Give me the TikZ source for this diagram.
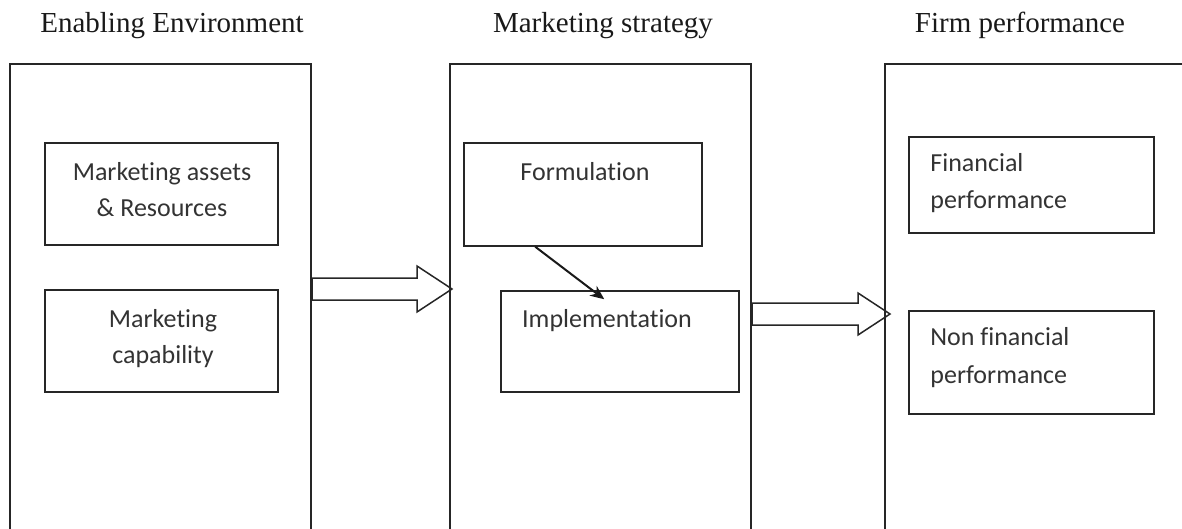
\documentclass[tikz,border=0pt]{standalone}
\usepackage{fontspec}
\setmainfont{Liberation Serif}
\newfontfamily\bodyfont[RawFeature={-liga;-clig}]{Carlito}
\usetikzlibrary{arrows.meta}

\begin{document}
\begin{tikzpicture}[x=0.5pt,y=-0.5pt,
  frame/.style={draw=black!85, line width=0.75pt, inner sep=0pt},
  inbox/.style={draw=black!85, line width=0.75pt, inner sep=0pt},
  coltitle/.style={font=\fontsize{14.5}{17}\selectfont, anchor=base, inner sep=0pt, text=black!90},
  lbl/.style={font=\bodyfont\fontsize{13}{16}\selectfont, anchor=base, inner sep=0pt, text=black!80},
  lbll/.style={lbl, anchor=base west},
  blockarrow/.style={draw=black!85, line width=0.75pt, fill=white, line join=miter},
  conn/.style={draw=black!90, line width=1pt, -{Stealth[length=7pt,width=6pt]}},
]
\useasboundingbox (0,0) rectangle (1182,529);

% column titles
\node[coltitle] (t1) at (172,33) {Enabling Environment};
\node[coltitle] (t2) at (603,33) {Marketing strategy};
\node[coltitle] (t3) at (1020,33) {Firm performance};

% block arrows between the columns
\draw[blockarrow] (312,278) -- (417,278) -- (417,266) -- (452,289) -- (417,312) -- (417,300) -- (312,300) -- cycle;
\draw[blockarrow] (752,303) -- (858,303) -- (858,293) -- (890,314) -- (858,335) -- (858,325) -- (752,325) -- cycle;

% column frames (running off the bottom of the page)
\node[frame, minimum width=150.5pt, minimum height=248pt] (c1) at (160.5,312) {};
\node[frame, minimum width=150.5pt, minimum height=248pt] (c2) at (600.5,312) {};
\node[frame, minimum width=157.5pt, minimum height=248pt] (c3) at (1042.5,312) {};

% enabling environment
\node[inbox, minimum width=116.5pt, minimum height=51pt] (assets) at (161.5,194) {};
\node[lbl] (assets1) at (162,181) {Marketing assets};
\node[lbl] (assets2) at (162,217) {\& Resources};
\node[inbox, minimum width=116.5pt, minimum height=51pt] (capab) at (161.5,341) {};
\node[lbl] (capab1) at (163,327) {Marketing};
\node[lbl] (capab2) at (163,363) {capability};

% marketing strategy
\node[inbox, minimum width=119pt, minimum height=51.5pt] (form) at (583,194.5) {};
\node[lbl] (form1) at (585,181) {Formulation};
\node[inbox, minimum width=119pt, minimum height=50.5pt] (impl) at (620,341.5) {};
\node[lbl] (impl1) at (607,327) {Implementation};
\coordinate (formout) at ([xshift=36pt]form.south west);
\coordinate (implin) at ([xshift=52pt,yshift=-4.5pt]impl.north west);
\draw[conn] (formout) -- (implin);

% firm performance
\node[inbox, minimum width=122.5pt, minimum height=48pt] (fin) at (1031.5,185) {};
\node[lbll] (fin1) at (930,172) {Financial};
\node[lbll] (fin2) at (930,209) {performance};
\node[inbox, minimum width=122.5pt, minimum height=51.5pt] (nfin) at (1031.5,362.5) {};
\node[lbll] (nfin1) at (930,345) {Non financial};
\node[lbll] (nfin2) at (930,383) {performance};
\end{tikzpicture}
\end{document}
